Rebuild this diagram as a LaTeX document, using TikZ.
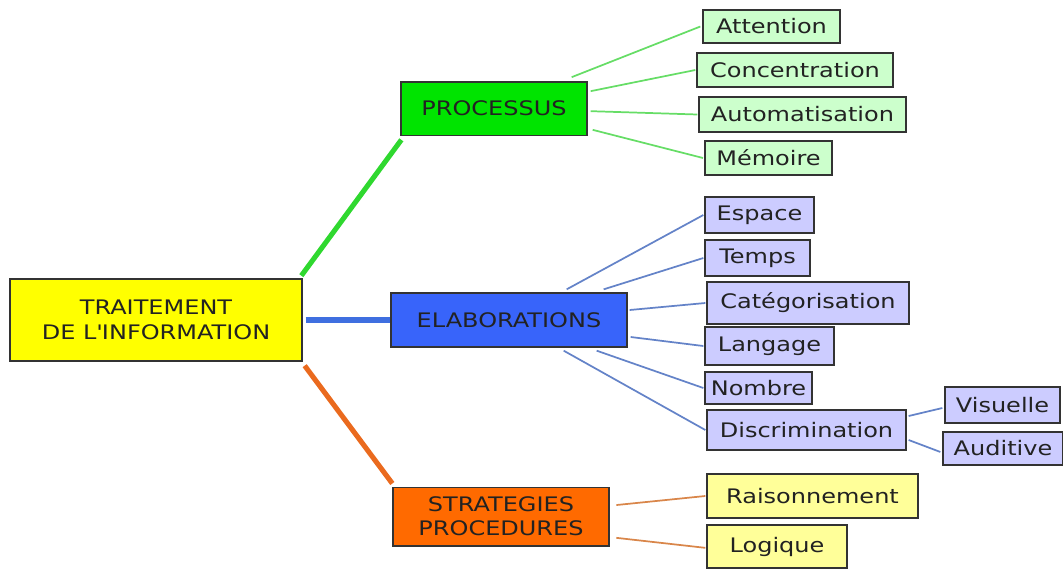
\documentclass[tikz,border=0pt]{standalone}
\usepackage{fontspec}
\setmainfont{DejaVu Sans}[FakeStretch=1.2]
\definecolor{txt}{HTML}{222222}
\definecolor{bord}{HTML}{333333}
\definecolor{rootfill}{HTML}{FFFF00}
\definecolor{procfill}{HTML}{00E400}
\definecolor{elabfill}{HTML}{3864FA}
\definecolor{stratfill}{HTML}{FF6A00}
\definecolor{gleaf}{HTML}{CCFFCC}
\definecolor{bleaf}{HTML}{CCCCFF}
\definecolor{yleaf}{HTML}{FFFF99}
\definecolor{gthick}{HTML}{2FD82F}
\definecolor{bthick}{HTML}{3F6FE0}
\definecolor{othick}{HTML}{EA6A1E}
\definecolor{gthin}{HTML}{66DD66}
\definecolor{bthin}{HTML}{6483C8}
\definecolor{othin}{HTML}{D9864A}
\tikzset{
  box/.style={draw=bord, line width=1pt, text=txt, inner sep=0pt, align=center,
    font=\fontsize{15}{19}\selectfont},
  rootbox/.style={box, fill=rootfill},
  procbox/.style={box, fill=procfill},
  elabbox/.style={box, fill=elabfill},
  stratbox/.style={box, fill=stratfill, font=\fontsize{15}{18}\selectfont},
  gbox/.style={box, fill=gleaf},
  bbox/.style={box, fill=bleaf},
  ybox/.style={box, fill=yleaf},
  thickline/.style={line width=3.8pt},
  thinline/.style={line width=1.3pt},
}
\begin{document}
\begin{tikzpicture}[x=0.75pt, y=-0.75pt]
\useasboundingbox (0,0) rectangle (1063,568);
% main boxes
\node[rootbox, minimum width=219pt, minimum height=61.5pt] (root) at (156,320) {TRAITEMENT\\DE L\textquotesingle INFORMATION};
\node[procbox, minimum width=139.5pt, minimum height=40pt] (proc) at (494,108.5) {PROCESSUS};
\node[elabbox, minimum width=177pt, minimum height=40.5pt] (elab) at (509,320) {ELABORATIONS};
\node[stratbox, minimum width=162pt, minimum height=44pt] (strat) at (501,516.5) {STRATEGIES\\PROCEDURES};
% green leaves
\node[gbox, minimum width=102.75pt, minimum height=24.75pt] (att) at (771.5,26.5) {Attention};
\node[gbox, minimum width=147pt, minimum height=25.5pt] (conc) at (795,70) {Concentration};
\node[gbox, minimum width=155.25pt, minimum height=26.25pt] (auto) at (802.5,114.5) {Automatisation};
\node[gbox, minimum width=95.25pt, minimum height=25.5pt] (mem) at (768.5,158) {Mémoire};
% blue leaves
\node[bbox, minimum width=81.75pt, minimum height=27pt] (esp) at (759.5,215) {Espace};
\node[bbox, minimum width=78.75pt, minimum height=27pt] (temps) at (757.5,258) {Temps};
\node[bbox, minimum width=151.5pt, minimum height=31.5pt] (cat) at (808,303) {Catégorisation};
\node[bbox, minimum width=96.75pt, minimum height=28.5pt] (lang) at (769.5,346) {Langage};
\node[bbox, minimum width=80.25pt, minimum height=24pt] (nomb) at (758.5,388) {Nombre};
\node[bbox, minimum width=149.25pt, minimum height=30pt] (disc) at (806.5,430) {Discrimination};
\node[bbox, minimum width=86.25pt, minimum height=27pt] (vis) at (1002.5,405) {Visuelle};
\node[bbox, minimum width=90pt, minimum height=24.75pt] (aud) at (1003,448.5) {Auditive};
% yellow leaves
\node[ybox, minimum width=158.25pt, minimum height=33pt] (rais) at (812.5,496) {Raisonnement};
\node[ybox, minimum width=105pt, minimum height=32.25pt] (logi) at (777,546.5) {Logique};
% thick connectors
\draw[thickline, gthick] ([xshift=-1pt,yshift=2pt]root.north east) -- ([xshift=0.75pt,yshift=-3pt]proc.south west);
\draw[thickline, bthick] ([xshift=2.25pt]root.east) -- (elab.west);
\draw[thickline, othick] ([xshift=1.5pt,yshift=-3pt]root.south east) -- ([yshift=2.25pt]strat.north west);
% green thin
\draw[thinline, gthin] ([xshift=-12pt,yshift=3pt]proc.north east) -- ([xshift=-1.5pt]att.west);
\draw[thinline, gthin] ([xshift=2.25pt,yshift=13pt]proc.east) -- ([xshift=-0.75pt]conc.west);
\draw[thinline, gthin] ([xshift=2.25pt,yshift=-2pt]proc.east) -- ([xshift=-0.75pt]auto.west);
\draw[thinline, gthin] ([xshift=3.75pt,yshift=-16pt]proc.east) -- ([xshift=-1pt]mem.west);
% blue thin
\draw[thinline, bthin] ([xshift=-45.75pt,yshift=2.25pt]elab.north east) -- ([xshift=-0.75pt]esp.west);
\draw[thinline, bthin] ([xshift=-18pt,yshift=2.25pt]elab.north east) -- ([xshift=-0.75pt]temps.west);
\draw[thinline, bthin] ([xshift=1.5pt,yshift=7.5pt]elab.east) -- ([xshift=-0.75pt]cat.west);
\draw[thinline, bthin] ([xshift=2.25pt,yshift=-12.75pt]elab.east) -- ([xshift=-0.75pt]lang.west);
\draw[thinline, bthin] ([xshift=-23.25pt,yshift=-2.25pt]elab.south east) -- ([xshift=-0.75pt]nomb.west);
\draw[thinline, bthin] ([xshift=-48pt,yshift=-2.25pt]elab.south east) -- ([xshift=-0.75pt]disc.west);
\draw[thinline, bthin] ([xshift=1.5pt,yshift=10.5pt]disc.east) -- ([xshift=-1.5pt,yshift=-2.25pt]vis.west);
\draw[thinline, bthin] ([xshift=1.5pt,yshift=-7.5pt]disc.east) -- ([xshift=-1.5pt,yshift=-2.6pt]aud.west);
% orange thin
\draw[thinline, othin] ([xshift=5pt,yshift=8.6pt]strat.east) -- ([xshift=-0.75pt]rais.west);
\draw[thinline, othin] ([xshift=5pt,yshift=-16pt]strat.east) -- ([xshift=-0.75pt,yshift=-1pt]logi.west);
\end{tikzpicture}
\end{document}
